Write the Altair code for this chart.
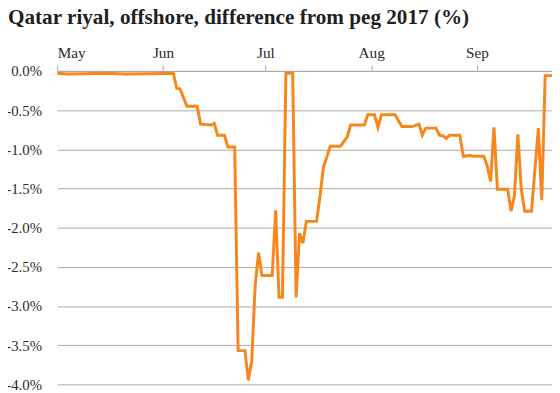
import altair as alt
import pandas as pd

dates = [
    "2017-05-01", "2017-05-04", "2017-05-09", "2017-05-15", "2017-05-21", "2017-05-28",
    "2017-06-04", "2017-06-05", "2017-06-06", "2017-06-08", "2017-06-11", "2017-06-12",
    "2017-06-15", "2017-06-16", "2017-06-17", "2017-06-19", "2017-06-20", "2017-06-22",
    "2017-06-23", "2017-06-25", "2017-06-26", "2017-06-27", "2017-06-28", "2017-06-29",
    "2017-06-30", "2017-07-03", "2017-07-04", "2017-07-05", "2017-07-06", "2017-07-07",
    "2017-07-09", "2017-07-10", "2017-07-11", "2017-07-12", "2017-07-13", "2017-07-16",
    "2017-07-17", "2017-07-18", "2017-07-19", "2017-07-20", "2017-07-23", "2017-07-25",
    "2017-07-26", "2017-07-30", "2017-07-31", "2017-08-02", "2017-08-03", "2017-08-04",
    "2017-08-08", "2017-08-10", "2017-08-13", "2017-08-15", "2017-08-16", "2017-08-17",
    "2017-08-20", "2017-08-21", "2017-08-22", "2017-08-23", "2017-08-24", "2017-08-27",
    "2017-08-28", "2017-08-30", "2017-08-31", "2017-09-03", "2017-09-04", "2017-09-05",
    "2017-09-06", "2017-09-07", "2017-09-10", "2017-09-11", "2017-09-12", "2017-09-13",
    "2017-09-14", "2017-09-15", "2017-09-17", "2017-09-19", "2017-09-20", "2017-09-21",
    "2017-09-23",
]
values = [
    -0.03, -0.04, -0.035, -0.03, -0.04, -0.035,
    -0.03, -0.22, -0.23, -0.45, -0.45, -0.68,
    -0.69, -0.67, -0.82, -0.82, -0.97, -0.97,
    -3.57, -3.57, -3.95, -3.70, -2.74, -2.32,
    -2.61, -2.61, -1.78, -2.89, -2.89, -0.03,
    -0.03, -2.89, -2.07, -2.20, -1.92, -1.92,
    -1.60, -1.23, -1.10, -0.96, -0.96, -0.84,
    -0.69, -0.69, -0.56, -0.56, -0.72, -0.56,
    -0.56, -0.71, -0.71, -0.68, -0.82, -0.73,
    -0.73, -0.82, -0.83, -0.86, -0.82, -0.82,
    -1.09, -1.08, -1.09, -1.09, -1.21, -1.41,
    -0.72, -1.51, -1.51, -1.79, -1.59, -0.81,
    -1.51, -1.79, -1.79, -0.73, -1.65, -0.06,
    -0.06,
]
month_ticks = [(2017, 5), (2017, 6), (2017, 7), (2017, 8), (2017, 9)]
y_ticks = [0.0, -0.5, -1.0, -1.5, -2.0, -2.5, -3.0, -3.5, -4.0]
title_text = "Qatar riyal, offshore, difference from peg 2017 (%)"

df = pd.DataFrame({"date": dates, "value": values})

GRID = "#b2a99f"
FONT = "Liberation Serif"

chart = (
    alt.Chart(df)
    .mark_line(color="#f7861b", strokeWidth=3, clip=True)
    .encode(
        x=alt.X(
            "date:T",
            scale=alt.Scale(
                type="utc",
                domain=[
                    alt.DateTime(year=2017, month=5, date=1, utc=True),
                    alt.DateTime(year=2017, month=9, date=23, utc=True),
                ],
                nice=False,
            ),
            axis=alt.Axis(
                orient="top",
                values=[alt.DateTime(year=y, month=m, date=1, utc=True) for y, m in month_ticks],
                format="%b",
                title=None,
                grid=False,
                domain=True,
                domainColor=GRID,
                tickColor=GRID,
                tickSize=6,
                labelPadding=5,
                labelFont=FONT,
                labelFontSize=15.5,
                labelColor="#2b2b2b",
            ),
        ),
        y=alt.Y(
            "value:Q",
            scale=alt.Scale(domain=[-4, 0], nice=False, zero=False),
            axis=alt.Axis(
                values=y_ticks,
                labelExpr="(datum.value < 0 ? '-' : '') + format(abs(datum.value), '.1f') + '%'",
                title=None,
                domain=False,
                ticks=False,
                grid=True,
                gridColor=GRID,
                gridWidth=1,
                gridOpacity=1,
                labelPadding=16,
                labelFont=FONT,
                labelFontSize=15,
                labelColor="#2b2b2b",
            ),
        ),
    )
    .properties(
        width=502,
        height=318,
        autosize=alt.AutoSizeParams(type="none"),
        padding={"left": 50, "top": 61, "right": 0, "bottom": 10},
        title=alt.TitleParams(
            text=title_text,
            anchor="start",
            frame="group",
            font=FONT,
            fontSize=21.5,
            fontWeight="bold",
            color="#1f1f1f",
            dx=-50,
            offset=17,
        ),
    )
    .configure_view(stroke=None)
)

chart.save("out.html", embed_options={"renderer": "svg", "actions": False})
